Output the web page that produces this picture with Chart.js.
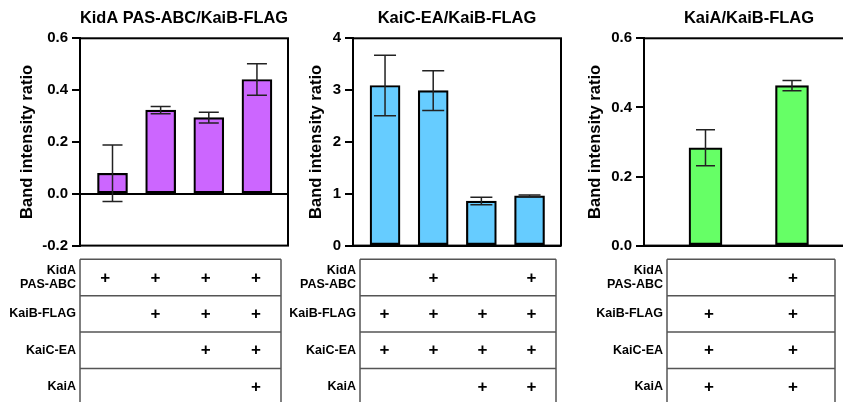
<!DOCTYPE html>
<html>
<head>
<meta charset="utf-8">
<script src="https://cdn.jsdelivr.net/npm/chart.js@4/dist/chart.umd.min.js"></script>
<style>
  html, body { margin: 0; padding: 0; background: #fff; }
  #wrap { position: relative; width: 843px; height: 402px; overflow: hidden; background: #fff; }
  #wrap canvas { position: absolute; left: 0; top: 0; }
</style>
</head>
<body>
<div id="wrap">
  <canvas id="c1" width="870" height="402"></canvas>
  <canvas id="c2" width="870" height="402"></canvas>
  <canvas id="c3" width="870" height="402"></canvas>
</div>
<script>
// Proteins listed in the condition table under each panel
const conditionRows = [['KidA', 'PAS-ABC'], ['KaiB-FLAG'], ['KaiC-EA'], ['KaiA']];

// Panel 1: KidA PAS-ABC / KaiB-FLAG
const kidaMeans = [0.079, 0.323, 0.294, 0.441];
const kidaErrors = [0.109, 0.014, 0.021, 0.061];
const kidaTicks = [-0.2, 0.0, 0.2, 0.4, 0.6];
const kidaPresence = [
  [1, 1, 1, 1],
  [0, 1, 1, 1],
  [0, 0, 1, 1],
  [0, 0, 0, 1]
];

// Panel 2: KaiC-EA / KaiB-FLAG
const kaicMeans = [3.09, 2.99, 0.86, 0.96];
const kaicErrors = [0.585, 0.385, 0.072, 0.016];
const kaicTicks = [0, 1, 2, 3, 4];
const kaicPresence = [
  [0, 1, 0, 1],
  [1, 1, 1, 1],
  [1, 1, 1, 1],
  [0, 0, 1, 1]
];

// Panel 3: KaiA / KaiB-FLAG
const kaiaMeans = [0.283, 0.463];
const kaiaErrors = [0.052, 0.015];
const kaiaTicks = [0.0, 0.2, 0.4, 0.6];
const kaiaPresence = [
  [0, 1],
  [1, 1],
  [1, 1],
  [1, 1]
];

const FONT = "'Liberation Sans', Arial, Helvetica, sans-serif";
Chart.defaults.color = '#000';
Chart.defaults.font.family = FONT;

// Frame around the plotting area
const framePlugin = {
  id: 'frame',
  afterDraw(chart) {
    const { ctx, chartArea: a } = chart;
    ctx.save();
    ctx.strokeStyle = '#000';
    ctx.lineWidth = 2;
    ctx.strokeRect(a.left, a.top, a.right - a.left, a.bottom - a.top);
    ctx.restore();
  }
};

// Mean ± error whiskers on top of the bars
const errorBarPlugin = {
  id: 'errorBars',
  afterDatasetsDraw(chart, args, opts) {
    const { ctx } = chart;
    const xs = chart.scales.x, ys = chart.scales.y;
    const means = chart.data.datasets[0].data.map(p => p.y);
    ctx.save();
    ctx.strokeStyle = opts.color;
    ctx.lineWidth = opts.lineWidth;
    means.forEach((m, i) => {
      const e = opts.errors[i];
      const x = xs.getPixelForValue(i);
      const yTop = ys.getPixelForValue(m + e);
      const yBot = ys.getPixelForValue(m - e);
      const h = opts.capWidth / 2;
      ctx.beginPath();
      ctx.moveTo(x, yTop); ctx.lineTo(x, yBot);
      ctx.moveTo(x - h, yTop); ctx.lineTo(x + h, yTop);
      ctx.moveTo(x - h, yBot); ctx.lineTo(x + h, yBot);
      ctx.stroke();
    });
    ctx.restore();
  }
};

// Condition table (+ marks) under each panel
const tablePlugin = {
  id: 'conditionTable',
  afterDraw(chart, args, opts) {
    const { ctx } = chart;
    const { left, right, top, rowHeight, presence } = opts;
    const nCols = presence[0].length;
    const colW = (right - left) / nCols;
    const bottom = top + rowHeight * conditionRows.length;
    ctx.save();
    ctx.strokeStyle = '#555';
    ctx.lineWidth = 1.5;
    ctx.beginPath();
    for (let r = 0; r <= conditionRows.length; r++) {
      const y = top + r * rowHeight;
      ctx.moveTo(left, y); ctx.lineTo(right, y);
    }
    ctx.moveTo(left, top); ctx.lineTo(left, bottom);
    ctx.moveTo(right, top); ctx.lineTo(right, bottom);
    ctx.stroke();

    ctx.fillStyle = '#000';
    ctx.textBaseline = 'middle';
    conditionRows.forEach((lines, r) => {
      const cy = top + (r + 0.5) * rowHeight;
      ctx.font = `bold 12.5px ${FONT}`;
      ctx.textAlign = 'right';
      const lh = 14.3;
      lines.forEach((t, k) => {
        ctx.fillText(t, left - 4, cy + (k - (lines.length - 1) / 2) * lh);
      });
      ctx.font = `bold 17px ${FONT}`;
      ctx.textAlign = 'center';
      presence[r].forEach((p, c) => {
        if (p) ctx.fillText('+', left + (c + 0.5) * colW, cy + 0.5);
      });
    });
    ctx.restore();
  }
};

function makePanel(id, cfg) {
  const fmt = cfg.decimals;
  return new Chart(document.getElementById(id), {
    type: 'bar',
    data: {
      datasets: [{
        data: cfg.means.map((v, i) => ({ x: i, y: v })),
        backgroundColor: cfg.color,
        borderColor: '#000',
        borderWidth: 2.2,
        borderSkipped: false,
        barThickness: cfg.barThickness
      }]
    },
    options: {
      responsive: false,
      devicePixelRatio: 1,
      animation: false,
      events: [],
      layout: {
        padding: { left: cfg.padLeft, right: 870 - cfg.plotRight, top: 0, bottom: 402 - 245.6 }
      },
      plugins: {
        legend: { display: false },
        tooltip: { enabled: false },
        title: {
          display: true,
          text: cfg.title,
          fullSize: false,
          color: '#000',
          font: { family: FONT, size: 16.5, weight: 'bold', lineHeight: 1.2 },
          padding: { top: 8.1, bottom: 10.4 }
        },
        errorBars: { errors: cfg.errors, color: '#222', lineWidth: 1.5, capWidth: cfg.capWidth },
        conditionTable: {
          left: cfg.tableLeft, right: cfg.tableRight, top: 259.3, rowHeight: 36.4,
          presence: cfg.presence
        }
      },
      scales: {
        x: {
          type: 'linear',
          display: false,
          offset: false,
          min: cfg.xMin,
          max: cfg.xMax
        },
        y: {
          min: cfg.ticks[0],
          max: cfg.ticks[cfg.ticks.length - 1],
          afterBuildTicks: s => { s.ticks = cfg.ticks.map(v => ({ value: v })); },
          afterFit: s => { s.width = cfg.axisWidth; },
          title: {
            display: true,
            text: 'Band intensity ratio',
            color: '#000',
            font: { family: FONT, size: 16.5, weight: 'bold', lineHeight: 1.2 },
            padding: 0
          },
          ticks: {
            color: '#000',
            padding: 4,
            font: { family: FONT, size: 15, weight: 'bold' },
            callback: v => Number(v).toFixed(fmt)
          },
          grid: {
            drawOnChartArea: true,
            drawTicks: true,
            tickLength: 8,
            tickWidth: 2,
            tickColor: '#000',
            lineWidth: 2,
            color: c => (c.tick && Math.abs(c.tick.value) < 1e-9) ? '#000' : 'rgba(0,0,0,0)'
          },
          border: { display: true, color: '#000', width: 2 }
        }
      }
    },
    plugins: [framePlugin, errorBarPlugin, tablePlugin]
  });
}

makePanel('c1', {
  title: 'KidA PAS-ABC/KaiB-FLAG',
  means: kidaMeans, errors: kidaErrors, ticks: kidaTicks, presence: kidaPresence,
  decimals: 1, color: '#CC66FF',
  padLeft: 17.1, axisWidth: 62.9, plotRight: 288,
  xMin: -0.675, xMax: 3.645, barThickness: 30, capWidth: 20,
  tableLeft: 80, tableRight: 281
});

makePanel('c2', {
  title: 'KaiC-EA/KaiB-FLAG',
  means: kaicMeans, errors: kaicErrors, ticks: kaicTicks, presence: kaicPresence,
  decimals: 0, color: '#66CCFF',
  padLeft: 306.6, axisWidth: 46.4, plotRight: 561,
  xMin: -0.665, xMax: 3.653, barThickness: 30, capWidth: 22,
  tableLeft: 360, tableRight: 556
});

makePanel('c3', {
  title: 'KaiA/KaiB-FLAG',
  means: kaiaMeans, errors: kaiaErrors, ticks: kaiaTicks, presence: kaiaPresence,
  decimals: 1, color: '#66FF66',
  padLeft: 586, axisWidth: 58, plotRight: 854,
  xMin: -0.711, xMax: 1.717, barThickness: 33, capWidth: 19,
  tableLeft: 667, tableRight: 835
});
</script>
</body>
</html>
